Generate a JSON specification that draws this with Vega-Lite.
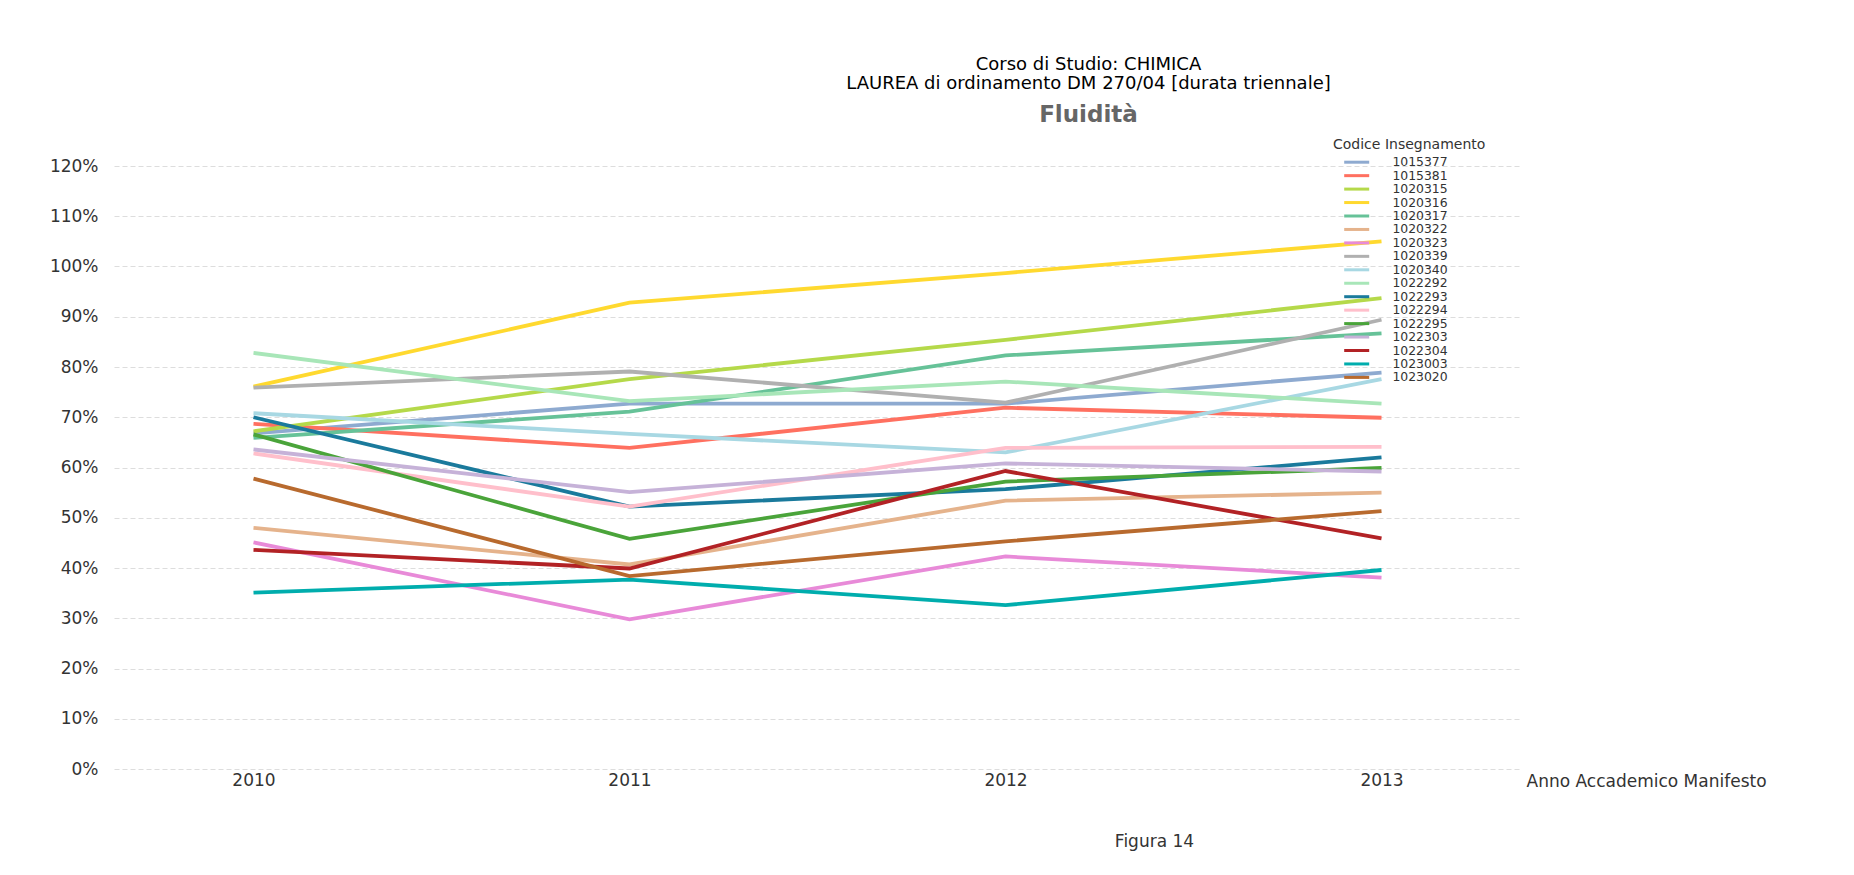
{
  "$schema": "https://vega.github.io/schema/vega-lite/v6.json",
  "autosize": {"type": "none"},
  "width": 1407,
  "height": 603,
  "padding": {"left": 114, "top": 166, "right": 333, "bottom": 106},
  "background": "white",
  "title": {
    "text": ["Corso di Studio: CHIMICA", "LAUREA di ordinamento DM 270/04 [durata triennale]"],
    "subtitle": "Fluidità",
    "anchor": "middle",
    "dx": 271,
    "offset": 11,
    "font": "DejaVu Sans",
    "fontSize": 18,
    "fontWeight": "normal",
    "color": "#000000",
    "lineHeight": 19,
    "subtitleFont": "DejaVu Sans",
    "subtitleFontSize": 23,
    "subtitleFontWeight": "bold",
    "subtitleColor": "#666666",
    "subtitlePadding": 11
  },
  "data": {
    "values": [
      {"codice": "1015377", "anno": "2010", "valore": 66.8},
      {"codice": "1015377", "anno": "2011", "valore": 72.7},
      {"codice": "1015377", "anno": "2012", "valore": 72.7},
      {"codice": "1015377", "anno": "2013", "valore": 78.9},
      {"codice": "1015381", "anno": "2010", "valore": 68.7},
      {"codice": "1015381", "anno": "2011", "valore": 63.9},
      {"codice": "1015381", "anno": "2012", "valore": 71.9},
      {"codice": "1015381", "anno": "2013", "valore": 69.9},
      {"codice": "1020315", "anno": "2010", "valore": 67.2},
      {"codice": "1020315", "anno": "2011", "valore": 77.6},
      {"codice": "1020315", "anno": "2012", "valore": 85.4},
      {"codice": "1020315", "anno": "2013", "valore": 93.7},
      {"codice": "1020316", "anno": "2010", "valore": 76.1},
      {"codice": "1020316", "anno": "2011", "valore": 92.8},
      {"codice": "1020316", "anno": "2012", "valore": 98.7},
      {"codice": "1020316", "anno": "2013", "valore": 105.0},
      {"codice": "1020317", "anno": "2010", "valore": 65.9},
      {"codice": "1020317", "anno": "2011", "valore": 71.1},
      {"codice": "1020317", "anno": "2012", "valore": 82.3},
      {"codice": "1020317", "anno": "2013", "valore": 86.7},
      {"codice": "1020322", "anno": "2010", "valore": 48.0},
      {"codice": "1020322", "anno": "2011", "valore": 40.7},
      {"codice": "1020322", "anno": "2012", "valore": 53.4},
      {"codice": "1020322", "anno": "2013", "valore": 55.0},
      {"codice": "1020323", "anno": "2010", "valore": 45.1},
      {"codice": "1020323", "anno": "2011", "valore": 29.8},
      {"codice": "1020323", "anno": "2012", "valore": 42.3},
      {"codice": "1020323", "anno": "2013", "valore": 38.1},
      {"codice": "1020339", "anno": "2010", "valore": 75.9},
      {"codice": "1020339", "anno": "2011", "valore": 79.1},
      {"codice": "1020339", "anno": "2012", "valore": 72.9},
      {"codice": "1020339", "anno": "2013", "valore": 89.4},
      {"codice": "1020340", "anno": "2010", "valore": 70.8},
      {"codice": "1020340", "anno": "2011", "valore": 66.7},
      {"codice": "1020340", "anno": "2012", "valore": 63.0},
      {"codice": "1020340", "anno": "2013", "valore": 77.6},
      {"codice": "1022292", "anno": "2010", "valore": 82.8},
      {"codice": "1022292", "anno": "2011", "valore": 73.2},
      {"codice": "1022292", "anno": "2012", "valore": 77.1},
      {"codice": "1022292", "anno": "2013", "valore": 72.7},
      {"codice": "1022293", "anno": "2010", "valore": 70.0},
      {"codice": "1022293", "anno": "2011", "valore": 52.2},
      {"codice": "1022293", "anno": "2012", "valore": 55.7},
      {"codice": "1022293", "anno": "2013", "valore": 62.0},
      {"codice": "1022294", "anno": "2010", "valore": 62.8},
      {"codice": "1022294", "anno": "2011", "valore": 52.2},
      {"codice": "1022294", "anno": "2012", "valore": 63.9},
      {"codice": "1022294", "anno": "2013", "valore": 64.1},
      {"codice": "1022295", "anno": "2010", "valore": 66.6},
      {"codice": "1022295", "anno": "2011", "valore": 45.8},
      {"codice": "1022295", "anno": "2012", "valore": 57.2},
      {"codice": "1022295", "anno": "2013", "valore": 59.9},
      {"codice": "1022303", "anno": "2010", "valore": 63.6},
      {"codice": "1022303", "anno": "2011", "valore": 55.1},
      {"codice": "1022303", "anno": "2012", "valore": 60.8},
      {"codice": "1022303", "anno": "2013", "valore": 59.2},
      {"codice": "1022304", "anno": "2010", "valore": 43.6},
      {"codice": "1022304", "anno": "2011", "valore": 39.9},
      {"codice": "1022304", "anno": "2012", "valore": 59.3},
      {"codice": "1022304", "anno": "2013", "valore": 45.9},
      {"codice": "1023003", "anno": "2010", "valore": 35.1},
      {"codice": "1023003", "anno": "2011", "valore": 37.7},
      {"codice": "1023003", "anno": "2012", "valore": 32.6},
      {"codice": "1023003", "anno": "2013", "valore": 39.6},
      {"codice": "1023020", "anno": "2010", "valore": 57.8},
      {"codice": "1023020", "anno": "2011", "valore": 38.4},
      {"codice": "1023020", "anno": "2012", "valore": 45.3},
      {"codice": "1023020", "anno": "2013", "valore": 51.3}
    ]
  },
  "mark": {"type": "line", "strokeWidth": 3.8},
  "encoding": {
    "x": {
      "field": "anno",
      "type": "ordinal",
      "scale": {"type": "point", "padding": 0.371},
      "axis": {
        "labelAngle": 0,
        "labelPadding": 3,
        "domain": false,
        "ticks": false,
        "grid": false,
        "labelFont": "DejaVu Sans",
        "labelFontSize": 17,
        "labelColor": "#333333",
        "title": "Anno Accademico Manifesto",
        "titleFont": "DejaVu Sans",
        "titleFontSize": 17,
        "titleFontWeight": "normal",
        "titleColor": "#333333",
        "titleX": 1412,
        "titleY": 12,
        "titleAlign": "left",
        "titleAnchor": null,
        "titleBaseline": "middle"
      }
    },
    "y": {
      "field": "valore",
      "type": "quantitative",
      "scale": {"domain": [0, 120], "nice": false, "zero": true},
      "axis": {
        "values": [0, 10, 20, 30, 40, 50, 60, 70, 80, 90, 100, 110, 120],
        "labelExpr": "datum.value + '%'",
        "labelPadding": 16,
        "domain": false,
        "ticks": false,
        "grid": true,
        "gridColor": "#dddddd",
        "gridDash": [5, 3],
        "gridWidth": 1,
        "labelFont": "DejaVu Sans",
        "labelFontSize": 17,
        "labelColor": "#333333",
        "title": "Figura 14",
        "titleAngle": 0,
        "titleX": 1040,
        "titleY": 675,
        "titleAlign": "center",
        "titleBaseline": "middle",
        "titleFont": "DejaVu Sans",
        "titleFontSize": 17,
        "titleFontWeight": "normal",
        "titleColor": "#333333"
      }
    },
    "color": {
      "field": "codice",
      "type": "nominal",
      "scale": {
        "domain": ["1015377", "1015381", "1020315", "1020316", "1020317", "1020322", "1020323", "1020339", "1020340", "1022292", "1022293", "1022294", "1022295", "1022303", "1022304", "1023003", "1023020"],
        "range": ["#8eaad0", "#ff7060", "#b5d94a", "#ffd92f", "#66c298", "#e5b38c", "#e88ad8", "#b0b0b0", "#a8d8e3", "#a8e6b8", "#1a7a9c", "#ffbfcb", "#4aa43a", "#c6b2d8", "#b22225", "#00adad", "#b86a2e"]
      },
      "legend": {
        "title": "Codice Insegnamento",
        "orient": "none",
        "legendX": 1219,
        "legendY": -28,
        "padding": 0,
        "symbolType": "M1.25,0H7.5",
        "symbolSize": 64,
        "symbolStrokeWidth": 3,
        "labelOffset": 47,
        "labelFont": "DejaVu Sans",
        "labelFontSize": 12.4,
        "labelColor": "#333333",
        "titleFont": "DejaVu Sans",
        "titleFontSize": 14,
        "titleFontWeight": "normal",
        "titleColor": "#333333",
        "titlePadding": 4,
        "rowPadding": 0.45
      }
    }
  },
  "config": {
    "view": {"stroke": null}
  }
}
